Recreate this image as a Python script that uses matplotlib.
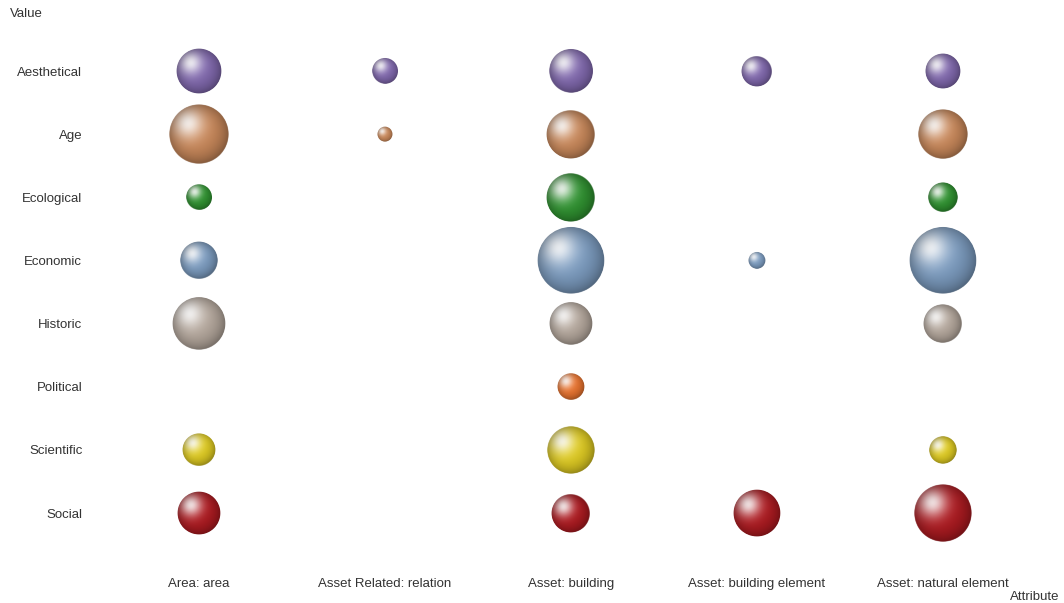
import numpy as np
import matplotlib.pyplot as plt
from matplotlib.colors import to_rgb
from matplotlib.patches import Ellipse

plt.rcParams["font.family"] = ["Liberation Sans", "DejaVu Sans"]

# categories
attributes = ["Area: area", "Asset Related: relation", "Asset: building",
              "Asset: building element", "Asset: natural element"]
values = ["Aesthetical", "Age", "Ecological", "Economic", "Historic",
          "Political", "Scientific", "Social"]

# bubble magnitude per value row, one entry per attribute column (0 = none)
aesthetical = [20.3, 6.8, 19.4, 9.6, 12.3]
age         = [36.0, 2.3, 24.0, 0.0, 25.0]
ecological  = [6.8, 0.0, 24.0, 0.0, 9.0]
economic    = [14.4, 0.0, 44.9, 2.9, 44.9]
historic    = [28.1, 0.0, 18.5, 0.0, 15.2]
political   = [0.0, 0.0, 7.3, 0.0, 0.0]
scientific  = [10.9, 0.0, 23.0, 0.0, 7.8]
social      = [18.5, 0.0, 15.2, 22.1, 33.6]
rows = [aesthetical, age, ecological, economic, historic, political, scientific, social]

colors = ["#8068ad", "#c9885a", "#2f9230", "#7c9cc0", "#b5a89d",
          "#e8732f", "#dfcb22", "#ad1a20"]


def sphere(base, n=160):
    u, v = np.meshgrid(np.linspace(-1, 1, n), np.linspace(1, -1, n))
    r = np.hypot(u, v)
    base = np.array(to_rgb(base))
    # soft white highlight towards the upper left
    d = np.hypot(u + 0.38, v - 0.38)
    spec = 0.88 * np.exp(-(d / 0.5) ** 2)
    rgb = base[None, None, :] * (1 - spec[..., None]) + spec[..., None]
    # darker rim, a little more on the lower right
    shade = 1 - 0.28 * np.clip(r, 0, 1) ** 3 - 0.06 * np.clip(u - v, 0, None)
    rgb *= shade[..., None]
    alpha = np.clip((1 - r) * n / 2, 0, 1)
    return np.dstack([np.clip(rgb, 0, 1), alpha])


fig = plt.figure(figsize=(10.64, 6.03), dpi=100)
ax = fig.add_axes([0.0996, 0.0968, 0.874, 0.8378])
ax.set_xlim(-0.5, len(attributes) - 0.5)
ax.set_ylim(len(values) - 0.5, -0.5)

fig.canvas.draw()
# pixels per data unit, so the spheres stay round
px_x = ax.transData.transform((1, 0))[0] - ax.transData.transform((0, 0))[0]
px_y = abs(ax.transData.transform((0, 1))[1] - ax.transData.transform((0, 0))[1])

for i, row in enumerate(rows):
    img = sphere(colors[i])
    for j, val in enumerate(row):
        if val <= 0:
            continue
        diam = 10 * np.sqrt(val)
        w, h = diam / px_x, diam / px_y
        im = ax.imshow(img, extent=(j - w / 2, j + w / 2, i + h / 2, i - h / 2),
                       aspect="auto", interpolation="bilinear", zorder=3)
        clip = Ellipse((j, i), w, h, transform=ax.transData)
        im.set_clip_path(clip)

ax.set_xlim(-0.5, len(attributes) - 0.5)
ax.set_ylim(len(values) - 0.5, -0.5)
ax.set_aspect("auto")

ax.set_xticks(range(len(attributes)))
ax.set_xticklabels(attributes)
ax.set_yticks(range(len(values)))
ax.set_yticklabels(values)
ax.tick_params(axis="x", length=0, pad=24, labelsize=9.5, labelcolor="#333333")
ax.tick_params(axis="y", length=0, pad=17, labelsize=9.5, labelcolor="#333333")
for s in ax.spines.values():
    s.set_visible(False)

fig.text(10 / 1064, 1 - 14 / 603, "Value", ha="left", va="center",
         fontsize=9.5, color="#333333")
fig.text(1059 / 1064, 1 - 597 / 603, "Attribute", ha="right", va="center",
         fontsize=9.5, color="#333333")

fig.savefig("out.png", dpi=100, facecolor="white")
